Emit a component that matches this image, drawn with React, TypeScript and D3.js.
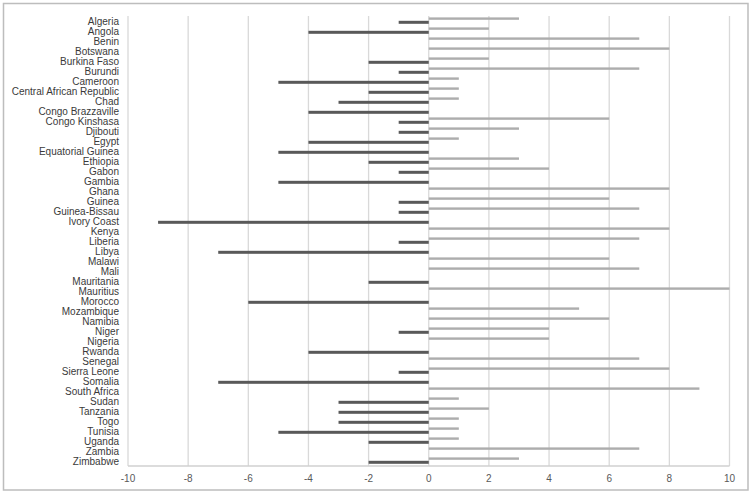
import React from "react";
import * as d3 from "d3";

const countries = [
  "Algeria", "Angola", "Benin", "Botswana", "Burkina Faso", "Burundi", "Cameroon",
  "Central African Republic", "Chad", "Congo Brazzaville", "Congo Kinshasa", "Djibouti",
  "Egypt", "Equatorial Guinea", "Ethiopia", "Gabon", "Gambia", "Ghana", "Guinea",
  "Guinea-Bissau", "Ivory Coast", "Kenya", "Liberia", "Libya", "Malawi", "Mali",
  "Mauritania", "Mauritius", "Morocco", "Mozambique", "Namibia", "Niger", "Nigeria",
  "Rwanda", "Senegal", "Sierra Leone", "Somalia", "South Africa", "Sudan", "Tanzania",
  "Togo", "Tunisia", "Uganda", "Zambia", "Zimbabwe",
];

const positiveValues = [
  3, 2, 7, 8, 2, 7, 1, 1, 1, 0, 6, 3,
  1, 0, 3, 4, 0, 8, 6, 7, 0, 8, 7, 0, 6, 7,
  0, 10, 0, 5, 6, 4, 4, 0, 7, 8, 0, 9, 1, 2,
  1, 1, 1, 7, 3,
];

const negativeValues = [
  -1, -4, 0, 0, -2, -1, -5, -2, -3, -4, -1, -1,
  -4, -5, -2, -1, -5, 0, -1, -1, -9, 0, -1, -7, 0, 0,
  -2, 0, -6, 0, 0, -1, 0, -4, 0, -1, -7, 0, -3, -3,
  -3, -5, -2, 0, -2,
];

const xTicks = [-10, -8, -6, -4, -2, 0, 2, 4, 6, 8, 10];

const W = 752;
const H = 493;
const plot = { left: 128, right: 729.5, top: 16, bottom: 466 };
const FONT = "'Liberation Sans', Arial, sans-serif";

export default function App() {
  const x = d3.scaleLinear().domain([-10, 10]).range([plot.left, plot.right]);
  const y = d3.scaleBand<string>().domain(countries).range([plot.top, plot.bottom]);
  const bw = y.bandwidth();

  return (
    <div style={{ position: "absolute", left: 0, top: 0 }}>
      <svg width={W} height={H} style={{ display: "block", background: "#fff" }}>
        <rect x={3.5} y={3.5} width={744.5} height={486.5} fill="#fff" stroke="#bdbdbd" strokeWidth={1.5} />
        {xTicks.map((t) => (
          <line key={"g" + t} x1={x(t)} x2={x(t)} y1={plot.top} y2={plot.bottom}
            stroke="#d9d9d9" strokeWidth={1.3} />
        ))}
        <line x1={plot.left} x2={plot.right} y1={plot.bottom} y2={plot.bottom} stroke="#d0d0d0" strokeWidth={1.3} />
        {countries.map((c, i) => {
          const y0 = y(c)!;
          const p = positiveValues[i];
          const n = negativeValues[i];
          return (
            <g key={c}>
              {p !== 0 && (
                <rect x={x(0)} y={y0 + bw * 0.5 - 3.6} width={x(p) - x(0)} height={2.4} fill="#adadad" />
              )}
              {n !== 0 && (
                <rect x={x(n)} y={y0 + bw * 0.5 - 0.2} width={x(0) - x(n)} height={3} fill="#595959" />
              )}
              <text x={119} y={y0 + bw / 2} dy="0.35em" textAnchor="end" fontFamily={FONT}
                fontSize={10} fill="#3a3a3a">{c}</text>
            </g>
          );
        })}
        {xTicks.map((t) => (
          <text key={"t" + t} x={x(t)} y={478} dy="0.35em" textAnchor="middle" fontFamily={FONT}
            fontSize={10} fill="#595959">{t}</text>
        ))}
      </svg>
    </div>
  );
}
